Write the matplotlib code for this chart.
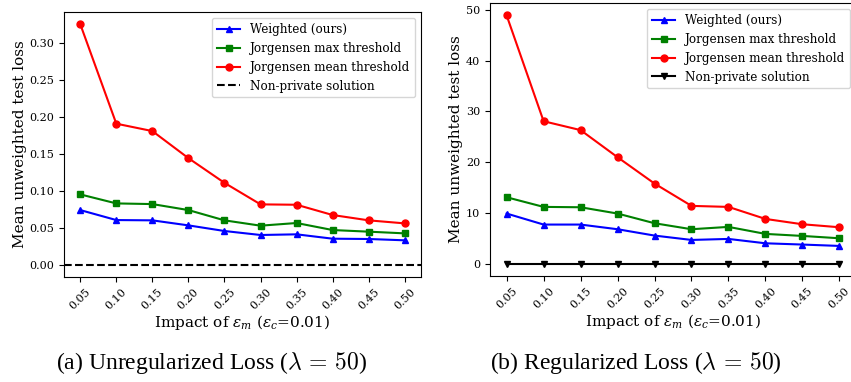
import matplotlib
matplotlib.use("Agg")
import matplotlib.pyplot as plt

# Privacy budget for the model component
eps_m = [0.05, 0.10, 0.15, 0.20, 0.25, 0.30, 0.35, 0.40, 0.45, 0.50]
tick_labels = ["0.05", "0.10", "0.15", "0.20", "0.25", "0.30", "0.35", "0.40", "0.45", "0.50"]

# (a) Unregularized loss
unreg_weighted = [0.0742, 0.0607, 0.0603, 0.0535, 0.0459, 0.0405, 0.0414, 0.0355, 0.0351, 0.0333]
unreg_max_thr = [0.0954, 0.0832, 0.0823, 0.0742, 0.0603, 0.0531, 0.0567, 0.0472, 0.0450, 0.0427]
unreg_mean_thr = [0.3257, 0.1910, 0.1810, 0.1444, 0.1110, 0.0819, 0.0814, 0.0675, 0.0603, 0.0562]
unreg_nonprivate = 0.0

# (b) Regularized loss
reg_weighted = [9.86, 7.69, 7.69, 6.77, 5.52, 4.66, 4.86, 4.00, 3.75, 3.48]
reg_max_thr = [13.07, 11.17, 11.10, 9.86, 7.95, 6.77, 7.23, 5.85, 5.45, 4.99]
reg_mean_thr = [48.9, 28.05, 26.3, 20.96, 15.77, 11.37, 11.17, 8.80, 7.75, 7.16]
reg_nonprivate = [0, 0, 0, 0, 0, 0, 0, 0, 0, 0]

plt.rcParams["font.family"] = "DejaVu Serif"
plt.rcParams["mathtext.fontset"] = "dejavuserif"

fig = plt.figure(figsize=(8.51, 3.82), dpi=100)
W, H = 851, 382
ax1 = fig.add_axes([64 / W, 1 - 277 / H, 357 / W, 265 / H])
ax2 = fig.add_axes([490 / W, 1 - 276 / H, 366 / W, 273 / H])

ms = 5
lw = 1.5

ax1.plot(eps_m, unreg_weighted, color="blue", marker="^", ms=ms, lw=lw, label="Weighted (ours)")
ax1.plot(eps_m, unreg_max_thr, color="green", marker="s", ms=ms, lw=lw, label="Jorgensen max threshold")
ax1.plot(eps_m, unreg_mean_thr, color="red", marker="o", ms=ms, lw=lw, label="Jorgensen mean threshold")
ax1.axhline(unreg_nonprivate, color="black", ls="--", lw=lw, label="Non-private solution")

ax2.plot(eps_m, reg_weighted, color="blue", marker="^", ms=ms, lw=lw, label="Weighted (ours)")
ax2.plot(eps_m, reg_max_thr, color="green", marker="s", ms=ms, lw=lw, label="Jorgensen max threshold")
ax2.plot(eps_m, reg_mean_thr, color="red", marker="o", ms=ms, lw=lw, label="Jorgensen mean threshold")
ax2.plot(eps_m, reg_nonprivate, color="black", marker="v", ms=ms, lw=lw, label="Non-private solution")

for ax in (ax1, ax2):
    ax.set_xticks(eps_m)
    ax.set_xticklabels(tick_labels, rotation=45)
    ax.tick_params(labelsize=8)
    ax.set_xlabel(r"Impact of $\epsilon_m$ ($\epsilon_c$=0.01)", fontsize=11, labelpad=1)
    ax.set_ylabel("Mean unweighted test loss", fontsize=11, labelpad=2)
    ax.legend(loc="upper right", fontsize=8.6)

ax1.set_yticks([0.0, 0.05, 0.10, 0.15, 0.20, 0.25, 0.30])
ax1.set_yticklabels(["0.00", "0.05", "0.10", "0.15", "0.20", "0.25", "0.30"])
ax2.set_yticks([0, 10, 20, 30, 40, 50])

cap = dict(family="Liberation Serif", fontsize=17, ha="center", va="center", math_fontfamily="cm")
fig.text(212 / W, 1 - 363 / H, r"(a) Unregularized Loss ($\lambda\,=\,50$)", **cap)
fig.text(636 / W, 1 - 363 / H, r"(b) Regularized Loss ($\lambda\,=\,50$)", **cap)

fig.savefig("out.png", dpi=100)
